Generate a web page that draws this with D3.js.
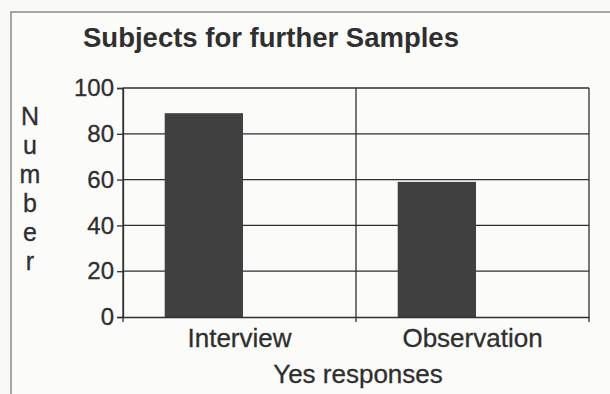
<!DOCTYPE html>
<html>
<head>
<meta charset="utf-8">
<script src="https://cdn.jsdelivr.net/npm/d3@7"></script>
<style>
  html, body { margin: 0; padding: 0; background: #f9f9f7; }
  svg { display: block; font-family: "Liberation Sans", Arial, sans-serif; }
</style>
</head>
<body>
<svg id="chart" width="610" height="394"></svg>
<script>
// Chart data
const categories = ["Interview", "Observation"];
const values = [89, 59];
const yTicks = [0, 20, 40, 60, 80, 100];
const titleText = "Subjects for further Samples";
const xTitleText = "Yes responses";
const yTitleText = "Number";

const W = 610, H = 394;
const plot = { left: 123, right: 589, top: 88, bottom: 317 };
const ink = "#2f2f2f";

const svg = d3.select("#chart");

// Outer frame (runs off the right and bottom edges)
svg.append("rect")
  .attr("x", 11).attr("y", 12)
  .attr("width", W + 20).attr("height", H + 20)
  .attr("fill", "#fbfbfa")
  .attr("stroke", "#8a8a8a").attr("stroke-width", 1.5);

const x = d3.scaleBand().domain(categories).range([plot.left, plot.right]).padding(0);
const y = d3.scaleLinear().domain([0, 100]).range([plot.bottom, plot.top]);

// Horizontal gridlines
svg.append("g").selectAll("line").data(yTicks.filter(d => d > 0)).join("line")
  .attr("x1", plot.left).attr("x2", plot.right)
  .attr("y1", d => y(d)).attr("y2", d => y(d))
  .attr("stroke", ink).attr("stroke-width", 1.3);

// Category separators / right frame, continuing below the axis as ticks
const sepXs = categories.map(c => x(c) + x.bandwidth()).concat([plot.left]);
svg.append("g").selectAll("line").data(sepXs).join("line")
  .attr("x1", d => d).attr("x2", d => d)
  .attr("y1", plot.top).attr("y2", plot.bottom + 5)
  .attr("stroke", ink).attr("stroke-width", 1.3);

// Bars
const barOffset = 0.179, barFrac = 0.336;
svg.append("g").selectAll("rect").data(categories).join("rect")
  .attr("x", d => x(d) + x.bandwidth() * barOffset)
  .attr("width", x.bandwidth() * barFrac)
  .attr("y", (d, i) => y(values[i]))
  .attr("height", (d, i) => y(0) - y(values[i]))
  .attr("fill", "#404040");

// Y axis
const yAxis = d3.axisLeft(y).tickValues(yTicks).tickSize(6).tickPadding(3);
const gy = svg.append("g").attr("transform", `translate(${plot.left},0)`).call(yAxis);
gy.select(".domain").attr("stroke", ink).attr("stroke-width", 1.3);
gy.selectAll(".tick line").attr("stroke", ink).attr("stroke-width", 1.3);
gy.selectAll(".tick text").attr("fill", ink).style("font-size", "24px")
  .attr("stroke", ink).attr("stroke-width", 0.3);

// X axis line and labels
const xAxis = d3.axisBottom(x).tickSize(0).tickPadding(0);
const gx = svg.append("g").attr("transform", `translate(0,${plot.bottom})`).call(xAxis);
gx.select(".domain").attr("stroke", ink).attr("stroke-width", 1.3);
gx.selectAll(".tick text").attr("fill", ink).style("font-size", "26px")
  .attr("stroke", ink).attr("stroke-width", 0.3)
  .attr("dy", null).attr("y", 30);

// Title
svg.append("text")
  .attr("x", 271).attr("y", 47)
  .attr("text-anchor", "middle")
  .attr("fill", ink)
  .style("font-size", "27.5px").style("font-weight", "bold")
  .text(titleText);

// X axis title
svg.append("text")
  .attr("x", 358).attr("y", 383)
  .attr("text-anchor", "middle")
  .attr("fill", ink).attr("stroke", ink).attr("stroke-width", 0.3)
  .style("font-size", "26px")
  .text(xTitleText);

// Y axis title, stacked letters
svg.append("g").selectAll("text").data(yTitleText.split("")).join("text")
  .attr("x", 30).attr("y", (d, i) => 125 + i * 29)
  .attr("text-anchor", "middle")
  .attr("fill", ink).attr("stroke", ink).attr("stroke-width", 0.3)
  .style("font-size", "25px")
  .text(d => d);
</script>
</body>
</html>
